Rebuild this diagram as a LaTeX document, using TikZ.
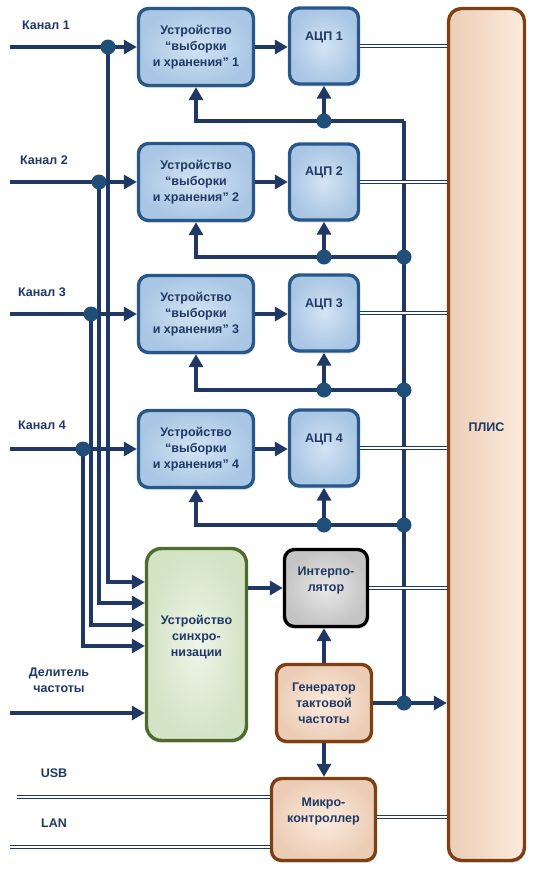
\documentclass[tikz,border=0pt]{standalone}
\usepackage{fontspec}
\setmainfont{Liberation Sans}
\usetikzlibrary{arrows.meta,shadows,calc}
\definecolor{navy}{HTML}{1F3864}
\definecolor{dotc}{HTML}{1F4E79}
\definecolor{bluein}{HTML}{D3E4F4}
\definecolor{blueout}{HTML}{A9C6E4}
\definecolor{blueedge}{HTML}{28578A}
\definecolor{peachin}{HTML}{FDEBDD}
\definecolor{peachout}{HTML}{EBCDB6}
\definecolor{brownedge}{HTML}{7E3F12}
\definecolor{greenin}{HTML}{EEF5E8}
\definecolor{greenout}{HTML}{D3E3C6}
\definecolor{greenedge}{HTML}{4F6B2E}
\definecolor{grayin}{HTML}{E8E8E8}
\definecolor{grayout}{HTML}{C4C4C4}
\tikzset{
  box/.style={rounded corners=10pt, line width=3.4pt, inner sep=0pt, align=center,
    text=navy, font=\bfseries\fontsize{12.5}{16}\selectfont,
    drop shadow={opacity=0.22, shadow xshift=1pt, shadow yshift=-2.5pt}},
  bluebox/.style={box, draw=blueedge, inner color=bluein, outer color=blueout},
  peachbox/.style={box, draw=brownedge, inner color=peachin, outer color=peachout},
  greenbox/.style={box, draw=greenedge, inner color=greenin, outer color=greenout, rounded corners=15pt},
  graybox/.style={box, draw=black, inner color=grayin, outer color=grayout},
  txt/.style={text=navy, font=\bfseries\fontsize{12.5}{16}\selectfont, align=center, inner sep=0pt},
  bus/.style={draw=navy, line width=3.8pt},
  arr/.style={bus, -{Triangle[length=13pt,width=14pt]}},
  dbl/.style={draw=navy, line width=1pt, double=white, double distance=2pt},
  jdot/.style={circle, fill=dotc, minimum size=15pt, inner sep=0pt},
}
\begin{document}
\begin{tikzpicture}[x=1pt,y=-1pt]
\useasboundingbox (0,0) rectangle (535,871);

% --- boxes ---
\node[bluebox, minimum width=115pt, minimum height=77pt] (sh1) at (196,47) {Устройство\\“выборки\\и хранения” 1};
\node[bluebox, minimum width=115pt, minimum height=77pt] (sh2) at (196,182) {Устройство\\“выборки\\и хранения” 2};
\node[bluebox, minimum width=115pt, minimum height=77pt] (sh3) at (196,314) {Устройство\\“выборки\\и хранения” 3};
\node[bluebox, minimum width=115pt, minimum height=77pt] (sh4) at (196,449) {Устройство\\“выборки\\и хранения” 4};

\node[bluebox, minimum width=69pt, minimum height=76pt] (adc1) at (324,46) {};
\node[bluebox, minimum width=69pt, minimum height=76pt] (adc2) at (324,182) {};
\node[bluebox, minimum width=69pt, minimum height=76pt] (adc3) at (324,313) {};
\node[bluebox, minimum width=69pt, minimum height=76pt] (adc4) at (324,448) {};
\node[txt] (adc1t) at (324,37) {АЦП 1};
\node[txt] (adc2t) at (324,172) {АЦП 2};
\node[txt] (adc3t) at (324,304) {АЦП 3};
\node[txt] (adc4t) at (324,439) {АЦП 4};

\node[peachbox, rounded corners=13pt, left color=peachout, right color=peachin, minimum width=76pt, minimum height=852pt] (plis) at (486.5,434.5) {};
\node[txt] (plist) at (486.5,427) {ПЛИС};

\node[greenbox, minimum width=100pt, minimum height=192pt] (sync) at (196.5,644.5) {};
\node[txt] (synct) at (196.5,637) {Устройство\\синхро-\\низации};

\node[graybox, minimum width=83pt, minimum height=77pt] (interp) at (326,588) {};
\node[txt] (interpt) at (326,580) {Интерпо-\\лятор};

\node[peachbox, minimum width=95pt, minimum height=77pt] (gen) at (324,703) {Генератор\\тактовой\\частоты};

\node[peachbox, minimum width=104pt, minimum height=82pt] (mcu) at (323.5,819.5) {};
\node[txt] (mcut) at (323.5,811.5) {Микро-\\контроллер};

% --- labels ---
\node[txt] (l1) at (46,25) {Канал 1};
\node[txt] (l2) at (44,160) {Канал 2};
\node[txt] (l3) at (42,292) {Канал 3};
\node[txt] (l4) at (42,425) {Канал 4};
\node[txt] (ldiv) at (59,680) {Делитель\\частоты};
\node[txt] (lusb) at (54,773) {USB};
\node[txt] (llan) at (54,823) {LAN};

% --- coordinates ---
\coordinate (in1) at (10,47);
\coordinate (in2) at (10,182);
\coordinate (in3) at (10,314);
\coordinate (in4) at (10,449);
\coordinate (c1) at (108,47);
\coordinate (c2) at (99,182);
\coordinate (c3) at (91,314);
\coordinate (c4) at (83,449);
\coordinate (y1) at (0,582);
\coordinate (y2) at (0,603);
\coordinate (y3) at (0,625);
\coordinate (y4) at (0,646);
\coordinate (indiv) at (10,713);
\coordinate (top) at (404,121);
\coordinate (j2) at (404,257);
\coordinate (j3) at (404,390);
\coordinate (j4) at (404,525);
\coordinate (j5) at (404,703);
\coordinate (a1) at (adc1.south |- top);
\coordinate (a2) at (adc2.south |- j2);
\coordinate (a3) at (adc3.south |- j3);
\coordinate (a4) at (adc4.south |- j4);
\coordinate (usb) at (17,797);
\coordinate (lan) at (10,847);
\coordinate (mcuo) at (0,817);

% --- channel inputs ---
\draw[arr] (in1) -- (in1 -| sh1.west);
\draw[arr] (in2) -- (in2 -| sh2.west);
\draw[arr] (in3) -- (in3 -| sh3.west);
\draw[arr] (in4) -- (in4 -| sh4.west);
\draw[arr] (c1) |- (y1 -| sync.west);
\draw[arr] (c2) |- (y2 -| sync.west);
\draw[arr] (c3) |- (y3 -| sync.west);
\draw[arr] (c4) |- (y4 -| sync.west);
\draw[arr] (indiv) -- (indiv -| sync.west);

% --- SH to ADC ---
\draw[arr] (sh1.east) -- (sh1.east -| adc1.west);
\draw[arr] (sh2.east) -- (sh2.east -| adc2.west);
\draw[arr] (sh3.east) -- (sh3.east -| adc3.west);
\draw[arr] (sh4.east) -- (sh4.east -| adc4.west);

% --- clock bus ---
\draw[bus] (j5) -- (top);
\draw[arr] (top) -| (sh1.south);
\draw[arr] (j2) -| (sh2.south);
\draw[arr] (j3) -| (sh3.south);
\draw[arr] (j4) -| (sh4.south);
\draw[arr] (a1) -- (adc1.south);
\draw[arr] (a2) -- (adc2.south);
\draw[arr] (a3) -- (adc3.south);
\draw[arr] (a4) -- (adc4.south);
\draw[arr] (gen.east) -- (gen.east -| plis.west);
\draw[arr] (gen.north) -- (gen.north |- interp.south);
\draw[arr] (gen.south) -- (gen.south |- mcu.north);
\draw[arr] (sync.east |- interp.west) -- (interp.west);

% --- double (bus) lines ---
\draw[dbl] (adc1.east) -- (adc1.east -| plis.west);
\draw[dbl] (adc2.east) -- (adc2.east -| plis.west);
\draw[dbl] (adc3.east) -- (adc3.east -| plis.west);
\draw[dbl] (adc4.east) -- (adc4.east -| plis.west);
\draw[dbl] (interp.east) -- (interp.east -| plis.west);
\draw[dbl] (mcuo -| mcu.east) -- (mcuo -| plis.west);
\draw[dbl] (usb) -- (usb -| mcu.west);
\draw[dbl] (lan) -- (lan -| mcu.west);

% --- junction dots ---
\node[jdot] (dc1) at (c1) {};
\node[jdot] (dc2) at (c2) {};
\node[jdot] (dc3) at (c3) {};
\node[jdot] (dc4) at (c4) {};
\node[jdot] (da1) at (a1) {};
\node[jdot] (da2) at (a2) {};
\node[jdot] (da3) at (a3) {};
\node[jdot] (da4) at (a4) {};
\node[jdot] (dj2) at (j2) {};
\node[jdot] (dj3) at (j3) {};
\node[jdot] (dj4) at (j4) {};
\node[jdot] (dj5) at (j5) {};
\end{tikzpicture}
\end{document}
